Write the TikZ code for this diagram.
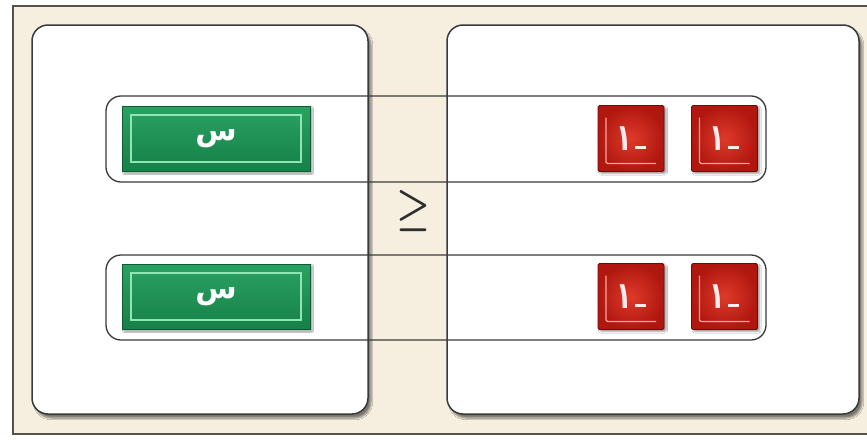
\documentclass[tikz,border=0pt]{standalone}
\usepackage{fontspec}
\newfontfamily\arabicfont[Script=Arabic]{DejaVu Sans}
\TeXXeTstate=1
\usetikzlibrary{shadows.blur}
\definecolor{cream}{HTML}{F6EFE0}
\definecolor{framegray}{HTML}{55524C}
\definecolor{edgegray}{HTML}{3A3A3A}
\definecolor{gtop}{HTML}{2AA262}
\definecolor{gbot}{HTML}{168048}
\definecolor{gline}{HTML}{8FE6B4}
\definecolor{rmid}{HTML}{DE3A2A}
\definecolor{rdark}{HTML}{B0170F}
\definecolor{rline}{HTML}{F6A79C}
\newcommand{\minusone}{\scalebox{0.85}[1.25]{\beginR\rule[0.8pt]{13pt}{2.8pt}\hspace{3pt}١\endR}}
\tikzset{
  panel/.style={draw=edgegray, line width=1.5pt, fill=white, rounded corners=16pt,
    blur shadow={shadow xshift=3pt, shadow yshift=-4pt, shadow blur steps=6, shadow opacity=50}},
  strip/.style={draw=edgegray, line width=1.3pt, rounded corners=15pt},
  greenbox/.style={draw=gbot!70!black, line width=0.8pt, top color=gtop, bottom color=gbot,
    text=white, font=\arabicfont\bfseries\fontsize{30}{30}\selectfont,
    blur shadow={shadow xshift=2pt, shadow yshift=-2pt, shadow blur steps=4, shadow opacity=40},
    path picture={\draw[gline, line width=1.2pt]
      ([shift={(9pt,-9pt)}]path picture bounding box.north west) rectangle
      ([shift={(-9pt,9pt)}]path picture bounding box.south east);}},
  redbox/.style={draw=rdark!60!black, line width=0.8pt, inner color=rmid, outer color=rdark,
    rounded corners=1.5pt, text=white!92!red, font=\arabicfont\bfseries\fontsize{30}{30}\selectfont,
    blur shadow={shadow xshift=2pt, shadow yshift=-2pt, shadow blur steps=4, shadow opacity=40},
    path picture={\draw[rline, line width=1.2pt]
      ([shift={(8pt,-12pt)}]path picture bounding box.north west) --
      ([shift={(8pt,8pt)}]path picture bounding box.south west) --
      ([shift={(-8pt,8pt)}]path picture bounding box.south east);}},
  relsym/.style={text=edgegray!80!black}
}
\begin{document}
\begin{tikzpicture}[x=1pt,y=-1pt]
\useasboundingbox (0,0) rectangle (867,439);
\fill[white] (0,0) rectangle (867,439);
\draw[fill=cream, draw=framegray, line width=2pt] (13,6) rectangle (870,434);
% panels
\node[panel, minimum width=336pt, minimum height=389pt] (lp) at (200,219.5) {};
\node[panel, minimum width=412pt, minimum height=389pt] (rp) at (653,219.5) {};
% strips
\node[strip, minimum width=660pt, minimum height=86pt] (s1) at (436,139) {};
\node[strip, minimum width=660pt, minimum height=85pt] (s2) at (436,297.5) {};
% green boxes
\node[greenbox, minimum width=188pt, minimum height=65pt] (g1) at (216,138.5) {\beginR س\endR};
\node[greenbox, minimum width=188pt, minimum height=65pt] (g2) at (216,296.5) {\beginR س\endR};
% red boxes
\node[redbox, minimum width=66pt, minimum height=66pt] (r1) at (631,138.5) {\minusone};
\node[redbox, minimum width=66pt, minimum height=66pt] (r2) at (724.5,138.5) {\minusone};
\node[redbox, minimum width=66pt, minimum height=66pt] (r3) at (631,296.5) {\minusone};
\node[redbox, minimum width=66pt, minimum height=66pt] (r4) at (724.5,296.5) {\minusone};
% relation symbol
\node[relsym] (rel) at (413,211) {\scalebox{3.8}[4.6]{\boldmath$\geq$}};
\end{tikzpicture}
\end{document}
